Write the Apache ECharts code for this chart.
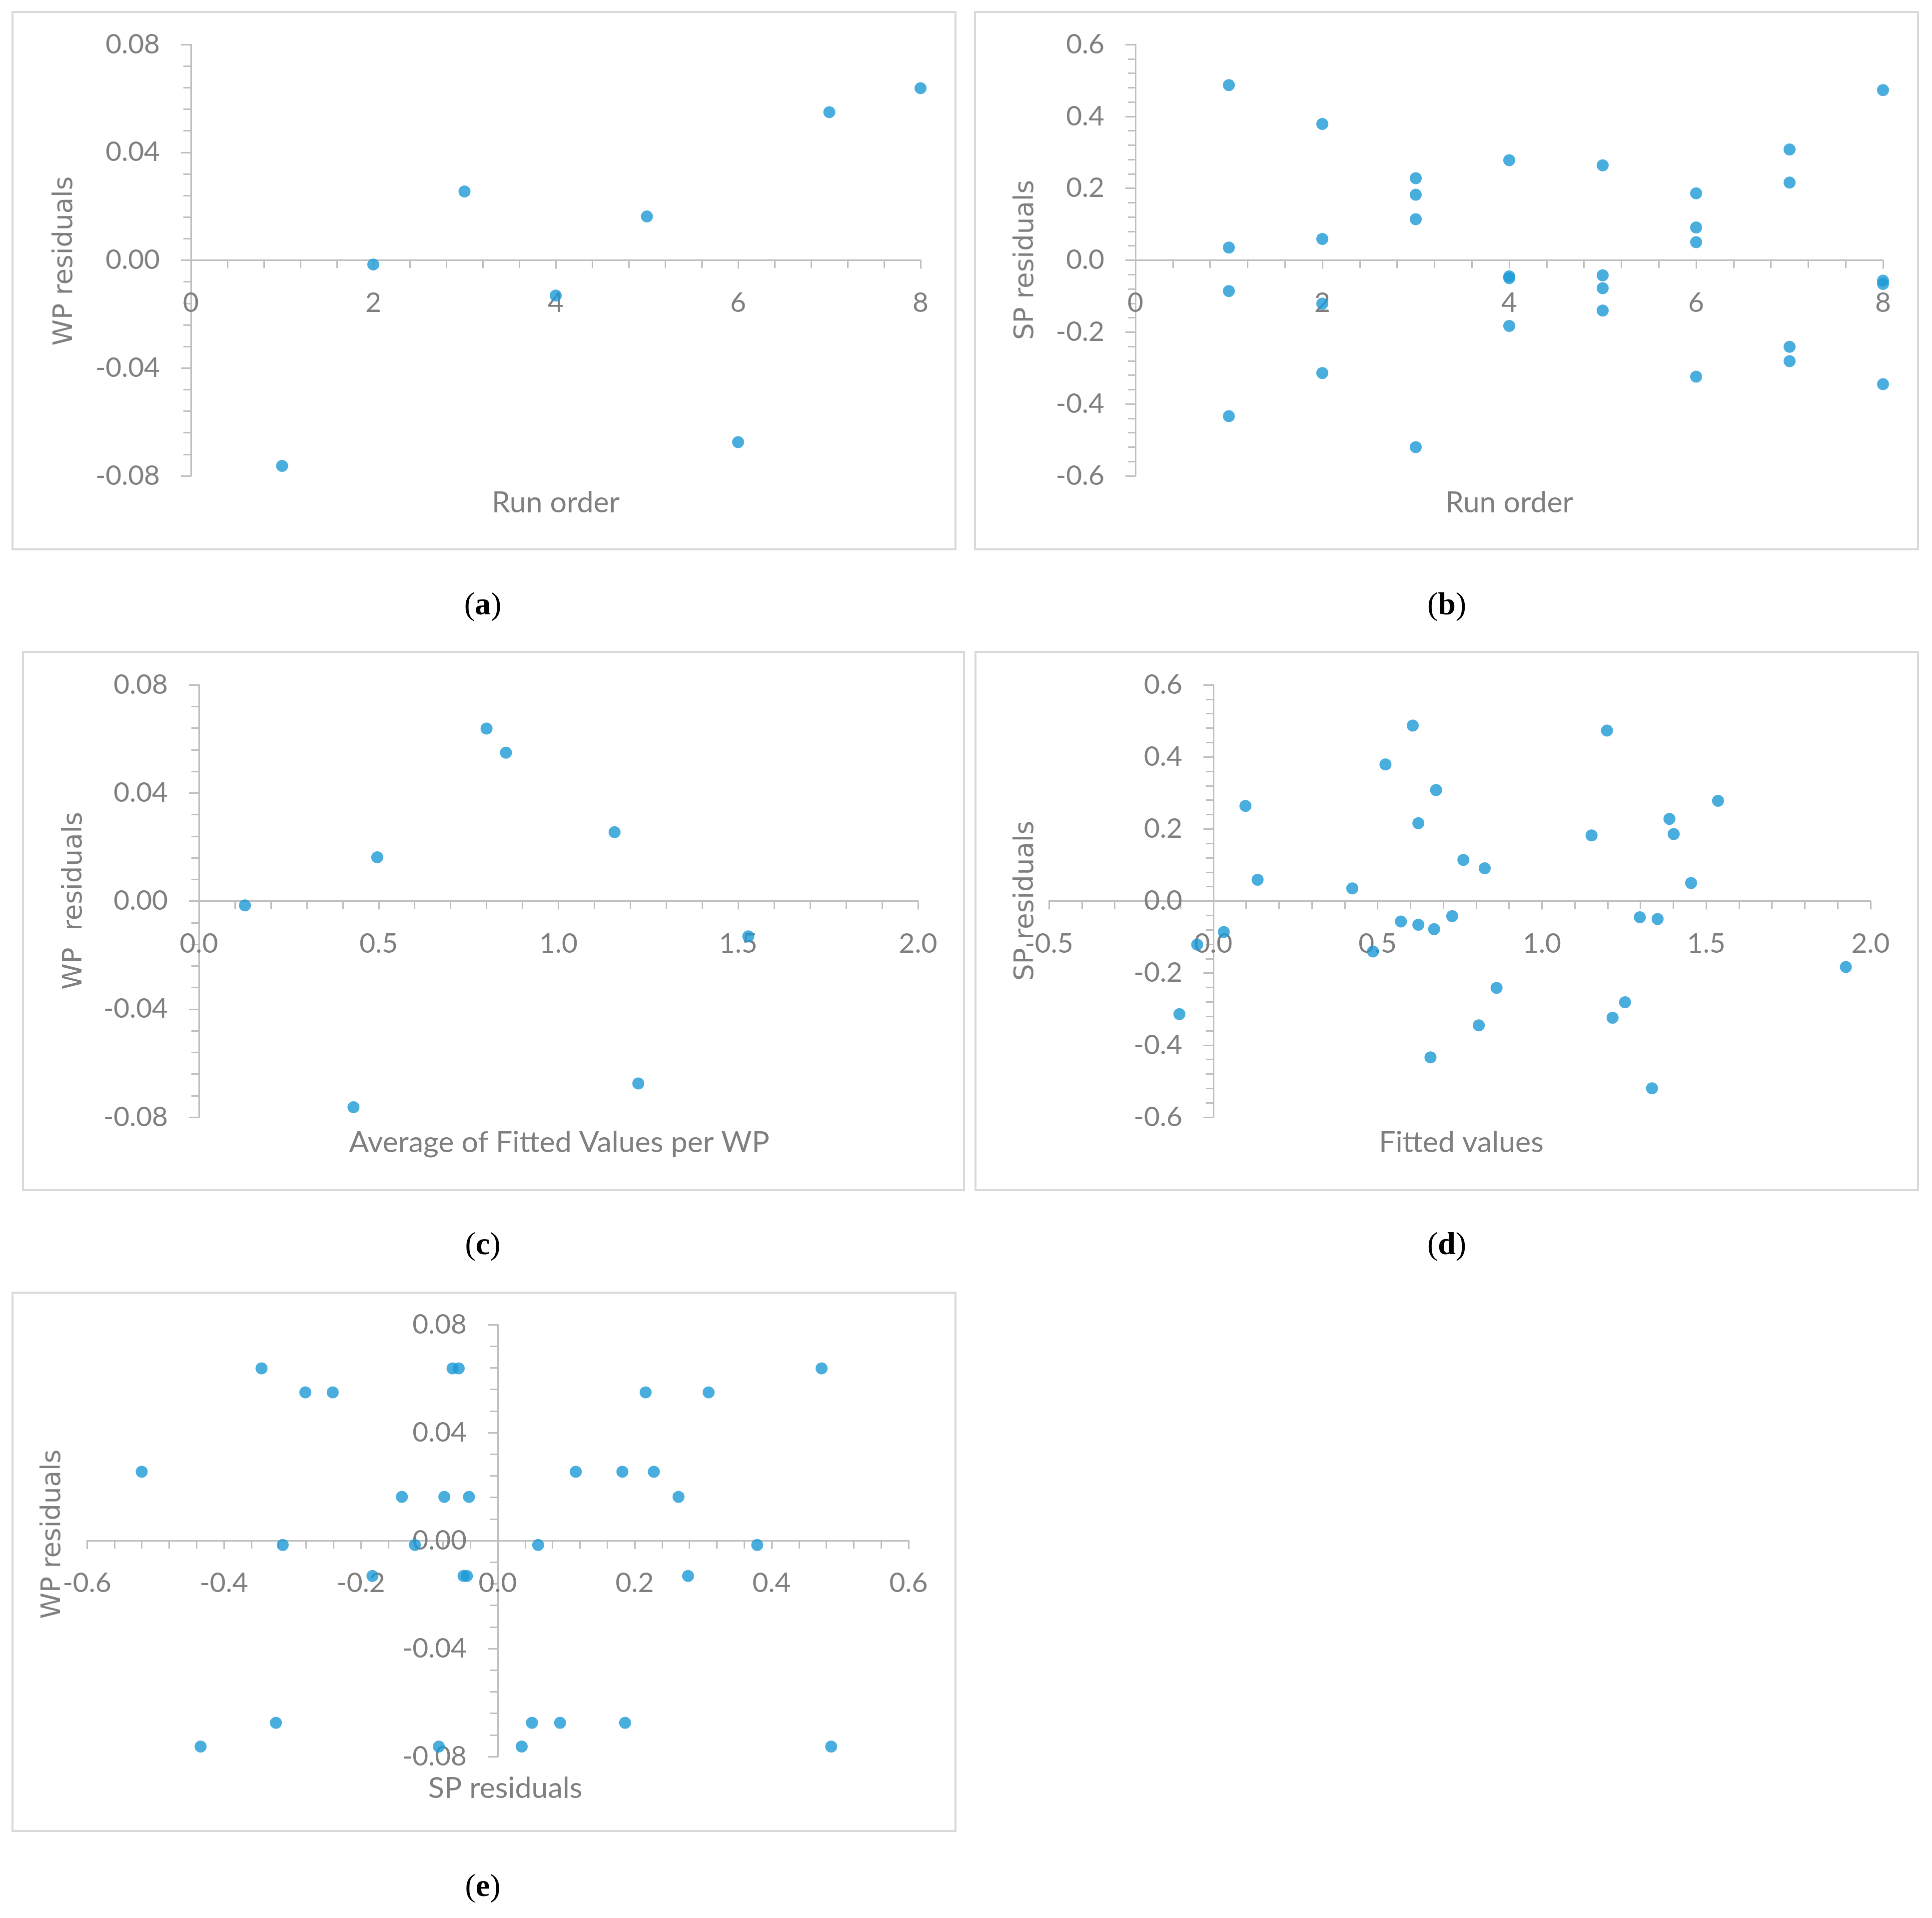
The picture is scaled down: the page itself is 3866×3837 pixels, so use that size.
<!DOCTYPE html>
<html>
<head>
<meta charset="utf-8">
<script src="https://cdn.jsdelivr.net/npm/echarts@6/dist/echarts.min.js"></script>
<style>
html,body{margin:0;padding:0;background:#fff;}
#c{width:3866px;height:3837px;}
</style>
</head>
<body>
<div id="c"></div>
<script>
// ---------- data ----------
const runOrder = [1, 2, 3, 4, 5, 6, 7, 8];
const wpResiduals = [-0.0763, -0.0016, 0.0255, -0.0131, 0.0162, -0.0675, 0.0549, 0.0638];
const avgFittedPerWP = [0.430, 0.128, 1.156, 1.528, 0.496, 1.222, 0.854, 0.800];
// split-plot residuals, 4 per run
const spResiduals = [
  [0.487, 0.035, -0.086, -0.434],
  [0.379, 0.059, -0.121, -0.314],
  [0.228, 0.182, 0.114, -0.520],
  [0.278, -0.045, -0.050, -0.183],
  [0.264, -0.042, -0.078, -0.140],
  [0.186, 0.091, 0.050, -0.324],
  [0.308, 0.216, -0.241, -0.281],
  [0.473, -0.057, -0.066, -0.345]
];
// fitted values matching spResiduals
const fittedValues = [
  [0.607, 0.423, 0.032, 0.661],
  [0.524, 0.135, -0.049, -0.103],
  [1.388, 1.151, 0.761, 1.335],
  [1.536, 1.298, 1.352, 1.925],
  [0.098, 0.727, 0.672, 0.486],
  [1.401, 0.826, 1.454, 1.215],
  [0.678, 0.624, 0.862, 1.253],
  [1.198, 0.571, 0.624, 0.808]
];
const captions = ['a', 'b', 'c', 'd', 'e'];
const xTitles = ['Run order', 'Run order', 'Average of Fitted Values per WP', 'Fitted values', 'SP residuals'];
const yTitles = ['WP residuals', 'SP residuals', 'WP  residuals', 'SP residuals', 'WP residuals'];

// ---------- build point sets ----------
const ptsA = runOrder.map((r, i) => [r, wpResiduals[i]]);
const ptsB = [];
runOrder.forEach((r, i) => spResiduals[i].forEach(s => ptsB.push([r, s])));
const ptsC = avgFittedPerWP.map((f, i) => [f, wpResiduals[i]]);
const ptsD = [];
fittedValues.forEach((row, i) => row.forEach((f, j) => ptsD.push([f, spResiduals[i][j]])));
const ptsE = [];
spResiduals.forEach((row, i) => row.forEach(s => ptsE.push([s, wpResiduals[i]])));

// ---------- styling ----------
const GREY = '#7f7f7f';
const AXIS = '#bfbfbf';
const DOT = '#1b9ad6';
const TICKFONT = 'Lato, "Liberation Sans", sans-serif';
const fmt = n => v => (Math.abs(v) < 1e-9 ? 0 : v).toFixed(n);

const grids = [
  {left: 382, top: 89, width: 1460, height: 863},
  {left: 2272, top: 89, width: 1496, height: 863},
  {left: 398, top: 1370, width: 1439, height: 865},
  {left: 2099, top: 1370, width: 1644, height: 865},
  {left: 174, top: 2650, width: 1644, height: 864}
];
const xSpec = [
  {min: 0, max: 8, interval: 2, d: 0},
  {min: 0, max: 8, interval: 2, d: 0},
  {min: 0, max: 2, interval: 0.5, d: 1},
  {min: -0.5, max: 2, interval: 0.5, d: 1},
  {min: -0.6, max: 0.6, interval: 0.2, d: 1}
];
const ySpec = [
  {min: -0.08, max: 0.08, interval: 0.04, d: 2},
  {min: -0.6, max: 0.6, interval: 0.2, d: 1},
  {min: -0.08, max: 0.08, interval: 0.04, d: 2},
  {min: -0.6, max: 0.6, interval: 0.2, d: 1},
  {min: -0.08, max: 0.08, interval: 0.04, d: 2}
];
const lineStyle = {color: AXIS, width: 3};
// axes cross at zero: shift each axis from its grid edge to the other axis' zero
const xAxes = xSpec.map((s, i) => {
  const ys = ySpec[i];
  const off = -(0 - ys.min) / (ys.max - ys.min) * grids[i].height;
  return {
    type: 'value', gridIndex: i, min: s.min, max: s.max, interval: s.interval, position: 'bottom', offset: off,
    axisLine: {show: true, onZero: false, lineStyle},
    axisTick: {show: true, length: 17, lineStyle},
    minorTick: {show: true, splitNumber: 5, length: 16, lineStyle},
    splitLine: {show: false}, minorSplitLine: {show: false},
    axisLabel: {margin: 58, fontSize: 55, fontFamily: TICKFONT, color: GREY, formatter: fmt(s.d)}
  };
});
const yAxes = ySpec.map((s, i) => {
  const xs = xSpec[i];
  const off = -(0 - xs.min) / (xs.max - xs.min) * grids[i].width;
  return {
    type: 'value', gridIndex: i, min: s.min, max: s.max, interval: s.interval, position: 'left', offset: off,
    axisLine: {show: true, onZero: false, lineStyle},
    axisTick: {show: true, length: 20, lineStyle},
    minorTick: {show: true, splitNumber: 5, length: 15, lineStyle},
    splitLine: {show: false}, minorSplitLine: {show: false},
    axisLabel: {margin: 62, fontSize: 55, fontFamily: TICKFONT, color: GREY, formatter: fmt(s.d)}
  };
});
const allPts = [ptsA, ptsB, ptsC, ptsD, ptsE];
const series = allPts.map((d, i) => ({
  type: 'scatter', xAxisIndex: i, yAxisIndex: i, data: d,
  symbol: 'circle', symbolSize: 24, itemStyle: {color: DOT}, silent: true
}));

// ---------- frames and texts ----------
const boxes = [
  [25, 24, 1887, 1075], [1951, 24, 1887, 1075], [46, 1304, 1883, 1077],
  [1952, 1304, 1886, 1077], [25, 2586, 1887, 1077]
];
const capPos = [[966, 1212], [2895, 1212], [966, 2492], [2895, 2492], [966, 3776]];
const xTitlePos = [[1112, 1006], [3020, 1006], [1119, 2286], [2924, 2286], [1011, 3578]];
const yTitlePos = [[130, 522], [2053, 520], [149, 1802], [2053, 1802], [106, 3069]];
const graphic = [];
boxes.forEach(b => graphic.push({type: 'rect', shape: {x: b[0], y: b[1], width: b[2], height: b[3]},
  style: {fill: 'none', stroke: '#d9d9d9', lineWidth: 4}, silent: true}));
captions.forEach((c, i) => graphic.push({type: 'text', x: capPos[i][0], y: capPos[i][1], silent: true,
  style: {text: '{p|(}{b|' + c + '}{p|)}', align: 'center', verticalAlign: 'middle',
    rich: {p: {fontFamily: '"Liberation Serif", serif', fontSize: 64, fill: '#000', fontWeight: 'normal'},
           b: {fontFamily: '"Liberation Serif", serif', fontSize: 64, fill: '#000', fontWeight: 'bold'}}}}));
xTitles.forEach((t, i) => graphic.push({type: 'text', x: xTitlePos[i][0], y: xTitlePos[i][1], silent: true,
  style: {text: t, align: 'center', verticalAlign: 'middle', font: '59px ' + TICKFONT, fill: GREY}}));
yTitles.forEach((t, i) => graphic.push({type: 'text', x: yTitlePos[i][0], y: yTitlePos[i][1], rotation: Math.PI / 2, silent: true,
  style: {text: t, align: 'center', verticalAlign: 'middle', font: '53px "DejaVu Sans", sans-serif', fill: GREY}}));

const chart = echarts.init(document.getElementById('c'), null, {renderer: 'canvas'});
chart.setOption({
  animation: false,
  backgroundColor: '#ffffff',
  grid: grids.map(g => Object.assign({containLabel: false, outerBoundsMode: 'none'}, g)),
  xAxis: xAxes,
  yAxis: yAxes,
  series: series,
  graphic: graphic
});
</script>
</body>
</html>
